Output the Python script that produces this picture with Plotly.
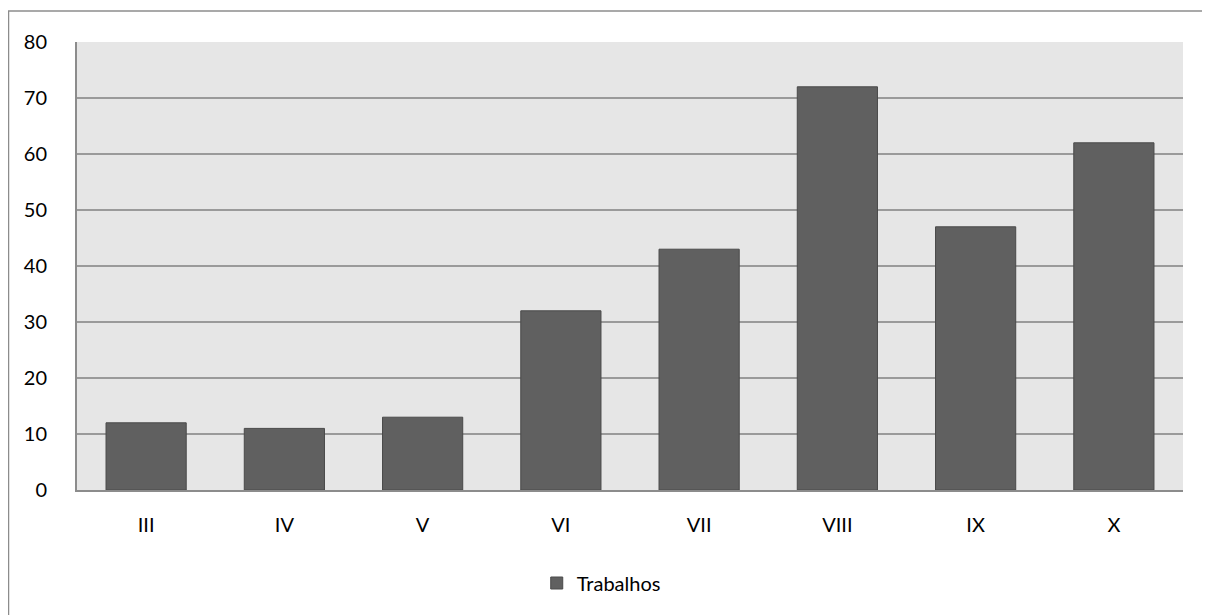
import plotly.graph_objects as go

categories = ["III", "IV", "V", "VI", "VII", "VIII", "IX", "X"]
trabalhos = [12, 11, 13, 32, 43, 72, 47, 62]
y_ticks = [0, 10, 20, 30, 40, 50, 60, 70, 80]

# page body adds an 8px offset, so the figure is drawn slightly smaller
W, H = 1202, 607
L, R, T, B = 69, 27, 34, 125
pw, ph = W - L - R, H - T - B

fig = go.Figure()
fig.add_trace(go.Bar(
    x=categories, y=trabalhos, name="Trabalhos",
    marker=dict(color="#606060", line=dict(color="#4a4a4a", width=1)),
))

def px(xp):
    return (xp - L) / pw

def py(yp):
    return (H - B - yp) / ph

fig.update_layout(
    width=W, height=H,
    margin=dict(l=L, r=R, t=T, b=B),
    paper_bgcolor="white", plot_bgcolor="#e6e6e6",
    bargap=0.42,
    font=dict(family="Lato, 'Open Sans', sans-serif", size=20, color="#000000"),
    showlegend=True,
    legend=dict(orientation="h", x=0.474, xanchor="center", y=py(575), yanchor="middle",
                font=dict(size=20), itemwidth=30),
    xaxis=dict(showgrid=False, showline=True, linecolor="#8c8c8c", linewidth=2,
               ticks="", ticklabelstandoff=16),
    yaxis=dict(range=[0, 80], tickvals=y_ticks, showgrid=True, gridcolor="#9a9a9a",
               gridwidth=2, showline=True, linecolor="#8c8c8c", linewidth=2,
               zeroline=False, ticks="", ticklabelstandoff=24),
    shapes=[
        dict(type="line", xref="paper", yref="paper", x0=px(0), x1=px(W + 8),
             y0=py(3), y1=py(3), line=dict(color="#8c8c8c", width=1.5)),
        dict(type="line", xref="paper", yref="paper", x0=px(0.5), x1=px(0.5),
             y0=py(3), y1=py(H), line=dict(color="#8c8c8c", width=1.5)),
    ],
)

fig.write_html("out.html")
